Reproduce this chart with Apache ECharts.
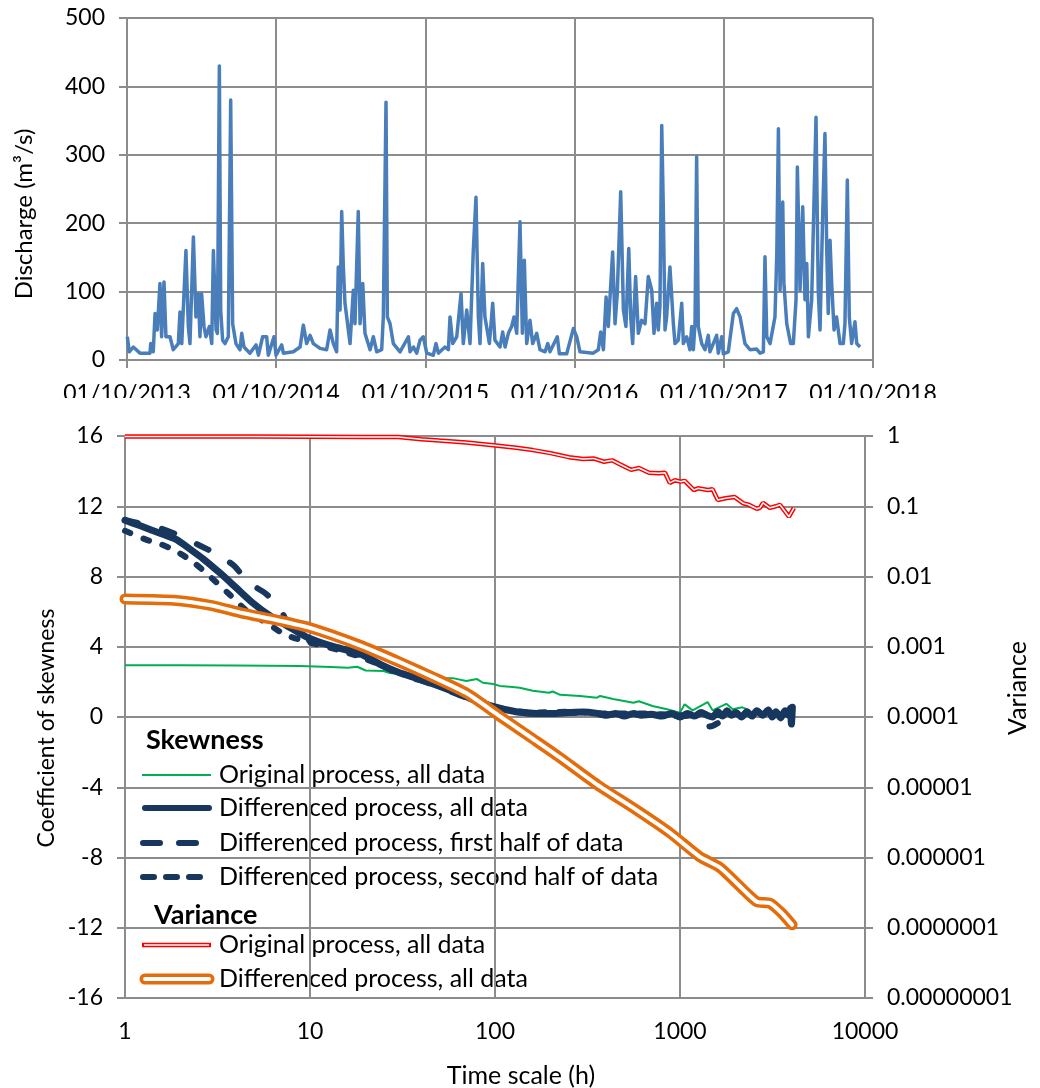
<!DOCTYPE html>
<html>
<head>
<meta charset="utf-8">
<script src="https://cdn.jsdelivr.net/npm/echarts@6/dist/echarts.min.js"></script>
<style>
  html, body { margin: 0; padding: 0; background: #fff; }
  #main { width: 1040px; height: 1088px; }
</style>
</head>
<body>
<div id="main"></div>
<script>
// top panel: [years since 01/10/2013, discharge m3/s]
var discharge = [
  [0.002,34],[0.015,12],[0.042,19],[0.087,10],[0.154,10],[0.159,24],[0.176,12],[0.188,68],[0.203,44],
  [0.221,112],[0.232,34],[0.248,114],[0.261,34],[0.288,34],[0.310,15],[0.344,24],[0.355,70],[0.367,24],
  [0.395,160],[0.411,49],[0.422,24],[0.445,180],[0.462,63],[0.478,97],[0.489,34],[0.500,97],[0.516,49],
  [0.529,34],[0.552,49],[0.568,24],[0.579,160],[0.597,44],[0.606,39],[0.619,430],[0.628,73],[0.641,29],
  [0.657,24],[0.679,34],[0.695,380],[0.708,53],[0.730,24],[0.757,15],[0.769,39],[0.784,19],[0.824,10],
  [0.865,22],[0.881,7],[0.909,34],[0.936,34],[0.947,7],[0.985,34],[0.999,7],[1.037,22],[1.048,10],
  [1.115,12],[1.160,19],[1.182,51],[1.204,24],[1.227,36],[1.249,24],[1.294,17],[1.338,15],[1.361,44],
  [1.383,24],[1.405,12],[1.416,136],[1.428,73],[1.439,217],[1.450,136],[1.461,83],[1.472,83],[1.495,24],
  [1.517,102],[1.528,53],[1.550,217],[1.562,53],[1.580,112],[1.595,39],[1.629,15],[1.651,34],[1.674,12],
  [1.707,15],[1.718,63],[1.736,377],[1.745,63],[1.763,53],[1.785,24],[1.830,12],[1.886,34],[1.897,12],
  [1.920,19],[1.942,10],[1.964,29],[1.986,34],[2.009,10],[2.053,7],[2.071,24],[2.087,10],[2.131,19],
  [2.154,15],[2.165,63],[2.183,24],[2.210,34],[2.239,97],[2.254,24],[2.277,73],[2.299,24],[2.321,160],
  [2.339,238],[2.355,63],[2.366,24],[2.384,141],[2.399,63],[2.429,24],[2.451,83],[2.466,29],[2.500,19],
  [2.518,41],[2.534,19],[2.556,39],[2.578,49],[2.594,63],[2.612,39],[2.634,202],[2.650,39],[2.663,146],
  [2.679,24],[2.701,58],[2.719,24],[2.746,39],[2.768,15],[2.802,12],[2.820,24],[2.835,12],[2.884,34],
  [2.898,9],[2.947,9],[2.965,24],[2.992,46],[3.014,34],[3.036,12],[3.125,10],[3.159,15],[3.175,41],
  [3.193,15],[3.211,92],[3.226,49],[3.255,158],[3.271,53],[3.286,97],[3.309,246],[3.327,73],[3.344,49],
  [3.363,163],[3.376,63],[3.389,24],[3.409,122],[3.427,39],[3.449,58],[3.472,53],[3.494,122],[3.517,102],
  [3.532,39],[3.550,83],[3.561,44],[3.572,78],[3.584,343],[3.594,229],[3.606,44],[3.617,63],[3.639,136],
  [3.650,136],[3.662,53],[3.673,24],[3.695,29],[3.718,83],[3.729,24],[3.751,34],[3.773,15],[3.785,49],
  [3.796,15],[3.807,53],[3.818,297],[3.829,49],[3.852,24],[3.874,15],[3.896,36],[3.907,12],[3.952,36],
  [3.963,10],[3.986,34],[3.997,9],[4.030,12],[4.064,68],[4.086,75],[4.109,63],[4.142,24],[4.176,15],
  [4.220,16],[4.243,10],[4.265,12],[4.276,151],[4.288,34],[4.310,24],[4.343,63],[4.355,153],[4.366,338],
  [4.377,102],[4.395,231],[4.403,112],[4.422,53],[4.448,24],[4.466,24],[4.484,88],[4.493,282],[4.511,102],
  [4.529,224],[4.544,88],[4.556,141],[4.567,34],[4.589,88],[4.605,238],[4.618,355],[4.633,102],[4.645,44],
  [4.663,214],[4.678,331],[4.690,161],[4.700,68],[4.712,175],[4.723,112],[4.739,44],[4.756,63],[4.779,24],
  [4.801,24],[4.812,53],[4.828,263],[4.841,63],[4.857,24],[4.879,56],[4.891,24],[4.913,19]
];
var yearLabels = ['01/10/2013','01/10/2014','01/10/2015','01/10/2016','01/10/2017','01/10/2018'];

// bottom panel: [time scale h, value]
var skewOriginal = [
  [1,2.95],[2,2.95],[4,2.93],[8.8,2.9],[13,2.84],[16,2.8],[18,2.86],[20,2.65],[25,2.62],[27,2.5],
  [38,2.35],[46,2.33],[52,2.22],[60,2.2],[70,2.05],[80,2.16],[86,1.95],[98,1.88],[106,1.77],[120,1.72],
  [136,1.67],[160,1.5],[196,1.38],[205,1.45],[225,1.26],[288,1.2],[356,1.1],[370,1.2],[435,1.02],
  [560,0.81],[600,0.9],[710,0.63],[850,0.44],[1000,0.25],[1060,0.72],[1170,0.38],[1410,0.85],
  [1500,0.38],[1780,0.75],[1930,0.44],[2170,0.55],[2300,0.45]
];
var skewDiff = [
  [1,11.2],[1.2,10.9],[1.6,10.4],[1.9,10.1],[2.25,9.55],[2.65,9.0],[3.26,8.2],[4.0,7.35],[4.9,6.5],
  [6.1,5.75],[7.5,5.2],[9.6,4.55],[13,4.05],[18.6,3.6],[24,3.0],[30,2.55],[38,2.2],[46,1.9],[58,1.5],
  [70,1.15],[85,0.8],[106,0.5],[130,0.3],[160,0.22],[200,0.2],[250,0.25],[300,0.28],[350,0.22],[400,0.1],
  [450,0.2],[500,0.05],[560,0.2],[620,0.1],[700,0.15],[800,0.05],[900,0.2],[1000,0.0],[1100,0.2],
  [1200,0.05],[1300,0.25],[1400,0.1],[1500,0.0],[1600,0.3],[1700,0.05],[1800,0.35],[1900,0.1],
  [2000,0.25],[2150,0.0],[2300,0.3],[2450,0.05],[2600,0.35],[2800,0.1],[3000,0.4],[3150,0.0],
  [3300,0.3],[3500,-0.05],[3700,0.35],[3850,0.1],[3950,0.5],[4000,-0.4],[4050,0.55]
];
var skewDiffFirst = [
  [1,11.2],[1.5,10.8],[2,10.3],[2.55,9.75],[3.1,9.3],[3.9,8.6],[4.6,7.7],[5.8,7.0],[6.9,6.15],
  [8.1,4.8],[10.2,4.3],[15,3.9],[20,3.35],[30,2.5],[46,1.85],[70,1.1],[106,0.45],[160,0.2],[250,0.25],
  [400,0.15],[600,0.15],[800,0.1],[1000,0.05],[1200,0.1],[1300,-0.3],[1400,-0.55],[1500,-0.5],[1600,-0.35]
];
var skewDiffSecond = [
  [1,10.6],[1.3,10.1],[1.55,9.85],[1.85,9.5],[2.35,8.8],[2.95,7.9],[3.65,7.0],[4.55,6.05],[5.85,5.35],
  [7.3,4.7],[9.5,4.3],[15,3.75],[20,3.3],[30,2.55],[46,1.95],[70,1.2],[106,0.5],[160,0.25],[250,0.3],
  [400,0.2],[600,0.2],[800,0.15],[1000,0.1],[1300,0.2],[1600,0.1],[2000,0.3]
];
var varOriginal = [
  [1,0.98],[5,0.98],[10,0.975],[20,0.97],[30,0.965],[40,0.9],[50,0.86],[70,0.81],[98,0.74],[130,0.68],
  [160,0.63],[200,0.57],[251,0.5],[300,0.47],[340,0.48],[389,0.43],[430,0.45],[470,0.4],[544,0.33],
  [600,0.35],[680,0.3],[770,0.295],[830,0.3],[880,0.215],[940,0.235],[1004,0.224],[1060,0.23],
  [1189,0.17],[1250,0.18],[1414,0.17],[1500,0.175],[1600,0.123],[1760,0.13],[1976,0.135],[2200,0.11],
  [2353,0.105],[2600,0.092],[2703,0.095],[2807,0.112],[3060,0.095],[3300,0.1],[3470,0.105],
  [3880,0.071],[4130,0.095]
];
var varDiff = [
  [1,0.00479],[1.9,0.00457],[2.9,0.00389],[4.3,0.00302],[6.6,0.0024],[10,0.00186],[18.6,0.00105],
  [30.6,0.000603],[46,0.000372],[70,0.000219],[106,0.000103],[160,4.9e-5],[222,2.7e-5],[360,1.07e-5],
  [578,4.8e-6],[883,2.24e-6],[1282,1.02e-6],[1645,7.2e-7],[2303,3.1e-7],[2611,2.34e-7],[3065,2.24e-7],
  [3545,1.62e-7],[4037,1.1e-7]
];

var FONT = 'Lato';
var GRID = '#8c8c8c';
var NAVY = '#17375e';
var ORANGE = '#e46c0a';

var chart = echarts.init(document.getElementById('main'), null, { renderer: 'canvas' });

function axisCommon() {
  return {
    axisLine: { show: true, lineStyle: { color: GRID, width: 2 } },
    axisTick: { show: true, inside: false, length: 8, lineStyle: { color: GRID, width: 2 } },
    splitLine: { show: true, lineStyle: { color: GRID, width: 2 } },
    axisLabel: { color: '#000', fontFamily: FONT, fontSize: 23 }
  };
}

function varLabel(v) {
  var e = Math.round(Math.log(v) / Math.LN10);
  return e >= 0 ? String(Math.round(Math.pow(10, e))) : Math.pow(10, e).toFixed(-e);
}

var xTop = axisCommon();
xTop.gridIndex = 0; xTop.type = 'value'; xTop.min = 0; xTop.max = 5; xTop.interval = 1;
xTop.axisLabel.margin = 22;
xTop.axisLabel.formatter = function (v) { return yearLabels[Math.round(v)]; };

var yTop = axisCommon();
yTop.gridIndex = 0; yTop.type = 'value'; yTop.min = 0; yTop.max = 500; yTop.interval = 100;
yTop.axisLabel.margin = 22;

var xBot = axisCommon();
xBot.gridIndex = 1; xBot.type = 'log'; xBot.logBase = 10; xBot.min = 1; xBot.max = 10000;
xBot.splitNumber = 4;
xBot.axisLabel.margin = 22;
xBot.axisLabel.formatter = function (v) { return String(Math.round(v)); };

var yBotL = axisCommon();
yBotL.gridIndex = 1; yBotL.type = 'value'; yBotL.min = -16; yBotL.max = 16; yBotL.interval = 4;
yBotL.axisLabel.margin = 22;

var yBotR = axisCommon();
yBotR.gridIndex = 1; yBotR.type = 'log'; yBotR.logBase = 10; yBotR.min = 1e-8; yBotR.max = 1;
yBotR.splitNumber = 8; yBotR.position = 'right';
yBotR.splitLine = { show: false };
yBotR.axisLabel.margin = 22;
yBotR.axisLabel.formatter = varLabel;

function lineSeries(data, xi, yi, color, width, extra) {
  var s = {
    type: 'line', xAxisIndex: xi, yAxisIndex: yi, data: data,
    symbol: 'none', silent: true, animation: false,
    lineStyle: { color: color, width: width }
  };
  if (extra) {
    for (var k in extra) {
      if (k === 'lineStyle') { for (var j in extra.lineStyle) s.lineStyle[j] = extra.lineStyle[j]; }
      else s[k] = extra[k];
    }
  }
  return s;
}

var legendX1 = 142, legendX2 = 211, legendText = 219;
function legendLine(y, color, width, dash, cap, x1, x2) {
  return {
    type: 'line', silent: true,
    shape: { x1: x1 || legendX1, y1: y, x2: x2 || legendX2, y2: y },
    style: { stroke: color, lineWidth: width, lineDash: dash || null, lineCap: cap || 'butt' }
  };
}
function legendLabel(x, y, text, bold) {
  return {
    type: 'text', silent: true, x: x, y: y,
    style: { text: text, fill: '#000', font: (bold ? 'bold 27px ' : '25px ') + FONT,
             textAlign: 'left', textVerticalAlign: 'middle' }
  };
}
function axisTitle(x, y, text, rot, size) {
  return {
    type: 'text', silent: true, x: x, y: y, rotation: rot,
    style: { text: text, fill: '#000', font: (size || 24) + 'px ' + FONT, textAlign: 'center', textVerticalAlign: 'middle' }
  };
}

var option = {
  backgroundColor: '#fff',
  animation: false,
  grid: [
    { left: 127, top: 18, width: 746, height: 342, containLabel: false },
    { left: 125, top: 436, width: 740, height: 562, containLabel: false }
  ],
  xAxis: [xTop, xBot],
  yAxis: [yTop, yBotL, yBotR],
  series: [
    lineSeries(discharge, 0, 0, '#4a7ebb', 3.5, { lineStyle: { join: 'round' } }),
    lineSeries(skewOriginal, 1, 1, '#00b050', 2),
    lineSeries(skewDiff, 1, 1, NAVY, 7, { smooth: 0.25, lineStyle: { cap: 'round', join: 'round' } }),
    lineSeries(skewDiffFirst, 1, 1, NAVY, 6, { smooth: 0.25, lineStyle: { type: [13, 25], cap: 'round' } }),
    lineSeries(skewDiffSecond, 1, 1, NAVY, 6, { smooth: 0.25, lineStyle: { type: [6, 14], cap: 'round' } }),
    lineSeries(varOriginal, 1, 2, '#ff0000', 4.5),
    lineSeries(varOriginal, 1, 2, '#ffffff', 1.5),
    lineSeries(varDiff, 1, 2, ORANGE, 11, { smooth: 0.2, lineStyle: { cap: 'round', join: 'round' } }),
    lineSeries(varDiff, 1, 2, '#ffffff', 4, { smooth: 0.2, lineStyle: { cap: 'round', join: 'round' } })
  ],
  graphic: [
    // hide the lower part of the top date labels, as in the original layout
    { type: 'rect', silent: true, z: 100, shape: { x: 0, y: 398, width: 1040, height: 18 }, style: { fill: '#fff' } },
    axisTitle(24, 214, 'Discharge (m³/s)', Math.PI / 2, 24),
    axisTitle(47, 728, 'Coefficient of skewness', Math.PI / 2, 23),
    axisTitle(1018, 688, 'Variance', Math.PI / 2, 25),
    axisTitle(521, 1076, 'Time scale (h)', 0, 25),
    legendLabel(146, 740, 'Skewness', true),
    legendLine(775, '#00b050', 2),
    legendLabel(legendText, 775, 'Original process, all data'),
    legendLine(808, NAVY, 6, null, 'round', 145, 209),
    legendLabel(legendText, 808, 'Differenced process, all data'),
    legendLine(843, NAVY, 6, [17, 19], 'round', 143, 206),
    legendLabel(legendText, 843, 'Differenced process, first half of data'),
    legendLine(877, NAVY, 6, [11, 12], 'round', 143, 204),
    legendLabel(legendText, 877, 'Differenced process, second half of data'),
    legendLabel(154, 915, 'Variance', true),
    legendLine(945, '#ff0000', 4.5),
    legendLine(945, '#ffffff', 1.5, null, 'butt', 144, 209),
    legendLabel(legendText, 945, 'Original process, all data'),
    legendLine(979, ORANGE, 11, null, 'round', 145, 209),
    legendLine(979, '#ffffff', 4, null, 'round', 145, 209),
    legendLabel(legendText, 979, 'Differenced process, all data')
  ]
};

chart.setOption(option);
window.addEventListener('resize', chart.resize);
</script>
</body>
</html>
